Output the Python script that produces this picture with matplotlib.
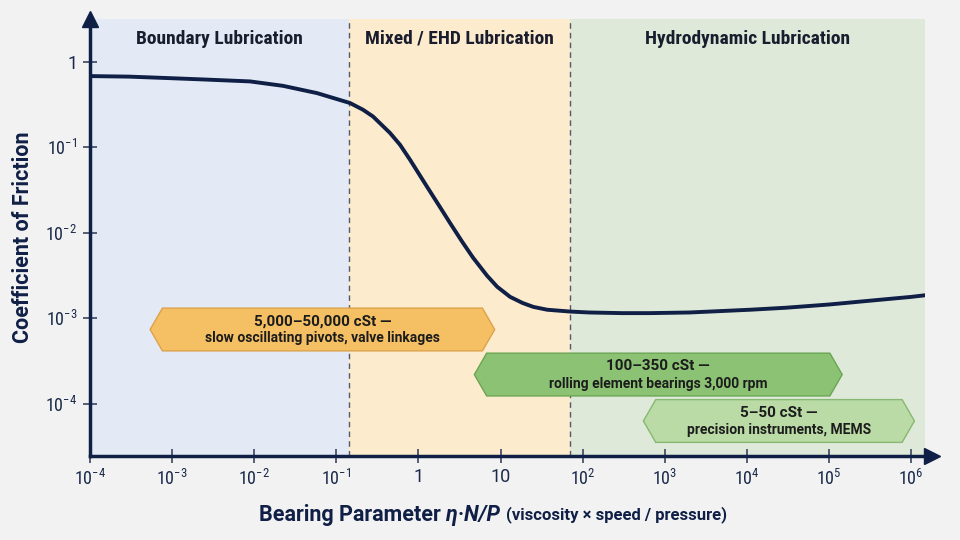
import numpy as np
import matplotlib
matplotlib.use("Agg")
import matplotlib.pyplot as plt
from matplotlib import font_manager as fm
from matplotlib.patches import Polygon

# ---------------- data ----------------
bearing_param = [1e-4, 3e-4, 8.7e-4, 2.5e-3, 8.9e-3, 0.0224, 0.0582, 0.147, 0.211, 0.28,
                 0.451, 0.597, 0.791, 1.26, 1.83, 2.43, 3.40, 4.62, 6.84, 9.1, 13.1,
                 18.6, 25.1, 37, 70, 120, 300, 660, 2000, 1.1e4, 3e4, 1e5, 3e5, 1e6,
                 1.48e6]
friction = [0.68, 0.67, 0.645, 0.62, 0.589, 0.523, 0.430, 0.329, 0.275, 0.229, 0.147,
            0.107, 0.0714, 0.0351, 0.020, 0.0130, 0.0079, 0.00513, 0.00316, 0.00234,
            0.00178, 0.00151, 0.00136, 0.00126, 0.0012, 0.00117, 0.00115, 0.00115,
            0.00117, 0.00126, 0.00133, 0.00145, 0.0016, 0.00178, 0.00186]

regime_names = ["Boundary Lubrication", "Mixed / EHD Lubrication", "Hydrodynamic Lubrication"]
regime_bounds = [1e-4, 0.143, 70, 10 ** 6.17]
regime_colors = ["#e3eaf5", "#fdebce", "#dfe9d9"]

x_ticks = [1e-4, 1e-3, 1e-2, 1e-1, 1, 10, 1e2, 1e3, 1e4, 1e5, 1e6]
x_ticklabels = [r"$10^{-4}$", r"$10^{-3}$", r"$10^{-2}$", r"$10^{-1}$", "1", "10",
                r"$10^{2}$", r"$10^{3}$", r"$10^{4}$", r"$10^{5}$", r"$10^{6}$"]
y_ticks = [1e-4, 1e-3, 1e-2, 1e-1, 1]
y_ticklabels = [r"$10^{-4}$", r"$10^{-3}$", r"$10^{-2}$", r"$10^{-1}$", "1"]

ann_titles = ["5,000\u201350,000 cSt \u2014", "100\u2013350 cSt \u2014", "5\u201350 cSt \u2014"]
ann_subtitles = ["slow oscillating pivots, valve linkages",
                 "rolling element bearings 3,000 rpm",
                 "precision instruments, MEMS"]
ann_x_start = [5.4e-4, 4.8, 550]
ann_x_end = [8.5, 1.45e5, 1.1e6]
ann_y_center = [7.4e-4, 2.2e-4, 6.3e-5]
ann_fill = ["#f5c063", "#8cc274", "#badba6"]
ann_edge = ["#dca24a", "#6aa552", "#86b872"]

# ---------------- fonts ----------------
def pick(cands):
    for c in cands:
        try:
            fm.findfont(c, fallback_to_default=False)
            return c
        except Exception:
            pass
    return "DejaVu Sans"

cond = pick(["Liberation Sans Narrow", "Roboto Condensed", "Roboto"])
main = pick(["Roboto", "Lato", "DejaVu Sans"])
plt.rcParams["font.family"] = [main, "DejaVu Sans"]
plt.rcParams["mathtext.fontset"] = "custom"
plt.rcParams["mathtext.rm"] = cond
plt.rcParams["mathtext.it"] = cond + ":italic"
plt.rcParams["mathtext.bf"] = cond + ":bold"

navy = "#0f1f45"
fig = plt.figure(figsize=(9.6, 5.4), dpi=100, facecolor="#f2f2f2")
ax = fig.add_axes([90 / 960, 1 - 456 / 540, 835 / 960, (456 - 19) / 540])
ax.set_facecolor("none")
ax.set_xscale("log")
ax.set_yscale("log")
ax.set_xlim(1e-4, 10 ** 6.17)
ax.set_ylim(10 ** -4.61, 10 ** 0.50)

for i in range(3):
    ax.axvspan(regime_bounds[i], regime_bounds[i + 1], color=regime_colors[i], zorder=0, lw=0)
    xc = np.sqrt(regime_bounds[i] * regime_bounds[i + 1])
    ax.text(xc, 10 ** 0.27, regime_names[i], ha="center", va="center", fontsize=14,
            fontweight="bold", family=[cond, "DejaVu Sans"], color="#1a1d2e", zorder=3)
for b in regime_bounds[1:3]:
    ax.axvline(b, color="#555a66", lw=1, ls=(0, (4, 3)), zorder=1)

# annotation hexagon arrows
h = 0.25   # half height in decades
tip = 0.15  # tip length in decades
for i in range(3):
    x0, x1 = np.log10(ann_x_start[i]), np.log10(ann_x_end[i])
    yc = np.log10(ann_y_center[i])
    pts = np.array([[x0, yc], [x0 + tip, yc + h], [x1 - tip, yc + h], [x1, yc],
                    [x1 - tip, yc - h], [x0 + tip, yc - h]])
    poly = Polygon(10 ** pts, closed=True, facecolor=ann_fill[i], edgecolor=ann_edge[i],
                   lw=1, zorder=4)
    ax.add_patch(poly)
    xm = 10 ** ((x0 + x1) / 2)
    ax.text(xm, 10 ** (yc + 0.095), ann_titles[i], ha="center", va="center", fontsize=11,
            fontweight="semibold", color="#1c1c1c", zorder=5)
    ax.text(xm, 10 ** (yc - 0.105), ann_subtitles[i], ha="center", va="center", fontsize=10,
            fontweight="semibold", color="#1c1c1c", zorder=5)

ax.plot(bearing_param, friction, color=navy, lw=2.8, zorder=6, solid_capstyle="round",
        solid_joinstyle="round")

# spines / ticks
for s in ["top", "right"]:
    ax.spines[s].set_visible(False)
for s in ["left", "bottom"]:
    ax.spines[s].set_color(navy)
    ax.spines[s].set_linewidth(2.5)
    ax.spines[s].set_zorder(7)
ax.set_xticks(x_ticks)
ax.set_xticklabels(x_ticklabels)
ax.set_yticks(y_ticks)
ax.set_yticklabels(y_ticklabels)
ax.minorticks_off()
ax.tick_params(axis="both", direction="inout", length=10, width=1.2, color="#3a4560",
               labelcolor="#1b2a4a", labelsize=13)
ax.tick_params(axis="x", pad=4)
ax.tick_params(axis="y", pad=4)
ax.plot([0], [1.0], marker="^", markersize=12, color=navy, transform=ax.transAxes,
        clip_on=False, zorder=8)
ax.plot([1.008], [0], marker=">", markersize=12, color=navy, transform=ax.transAxes,
        clip_on=False, zorder=8)

ax.set_ylabel("Coefficient of Friction", fontsize=15.5, fontweight="bold", color=navy,
              labelpad=8)

# composite x label
fig.canvas.draw()
r = fig.canvas.get_renderer()
parts = [("Bearing Parameter ", 15.5, "bold", "normal"),
         ("\u03b7\u00b7N/P ", 15.5, "bold", "italic"),
         ("(viscosity \u00d7 speed / pressure)", 12, "semibold", "normal")]
texts = []
for p in parts:
    t = fig.text(0, 1 - 515 / 540, p[0], fontsize=p[1], fontweight=p[2], style=p[3],
                 color=navy, va="center", ha="left")
    texts.append(t)
widths = [t.get_window_extent(r).width / fig.bbox.width for t in texts]
x = 493 / 960 - sum(widths) / 2
for t, w in zip(texts, widths):
    t.set_x(x)
    x += w

fig.savefig("out.png", dpi=100, facecolor=fig.get_facecolor())
